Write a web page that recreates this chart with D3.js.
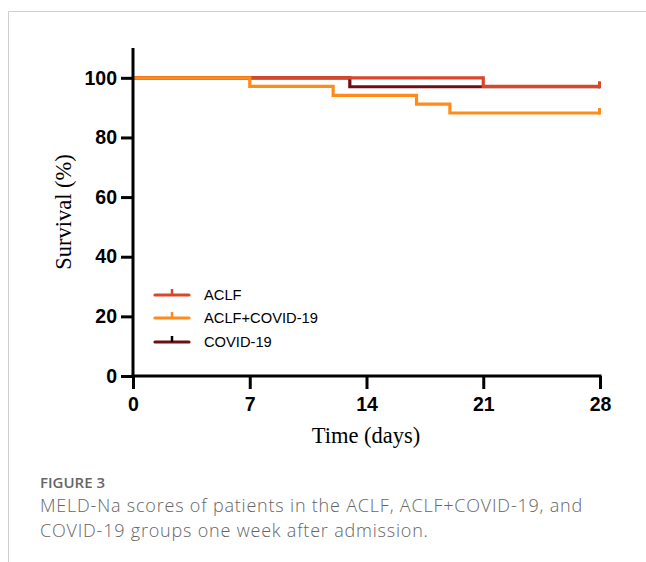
<!DOCTYPE html>
<html>
<head>
<meta charset="utf-8">
<script src="https://cdn.jsdelivr.net/npm/d3@7"></script>
<style>
  body { margin: 0; background: #fff; }
  svg { display: block; }
</style>
</head>
<body>
<div id="chart"></div>
<script>
// survival data (time in days, survival in %)
var groups = ["ACLF", "ACLF+COVID-19", "COVID-19"];
var colors = ["#d9472b", "#ff8c1a", "#6e1010"];

var aclfTimes = [0, 21, 28];
var aclfSurv = [100, 97.1, 97.1];

var aclfCovidTimes = [0, 7, 12, 17, 19, 28];
var aclfCovidSurv = [100, 97.1, 94.1, 91.2, 88.2, 88.2];

var covidTimes = [0, 13, 28];
var covidSurv = [100, 97.0, 97.0];

var xTicks = [0, 7, 14, 21, 28];
var yTicks = [0, 20, 40, 60, 80, 100];

var W = 646, H = 562;

var svg = d3.select("#chart")
  .append("svg")
  .attr("width", W)
  .attr("height", H);

// page frame
svg.append("line")
  .attr("x1", 8.5).attr("x2", W).attr("y1", 11.5).attr("y2", 11.5)
  .style("stroke", "#cfcfcf").style("stroke-width", 1);
svg.append("line")
  .attr("x1", 8.5).attr("x2", 8.5).attr("y1", 11.5).attr("y2", H)
  .style("stroke", "#cfcfcf").style("stroke-width", 1);

var x = d3.scaleLinear().domain([0, 28]).range([133, 600]);
var y = d3.scaleLinear().domain([0, 110]).range([376, 48]);

// curves, darkest first so the others sit on top
var series = [
  {name: "COVID-19", t: covidTimes, s: covidSurv, color: colors[2]},
  {name: "ACLF", t: aclfTimes, s: aclfSurv, color: colors[0]},
  {name: "ACLF+COVID-19", t: aclfCovidTimes, s: aclfCovidSurv, color: colors[1]}
];

var line = d3.line()
  .x(function(d) { return x(d[0]); })
  .y(function(d) { return y(d[1]); })
  .curve(d3.curveStepAfter);

series.forEach(function(g) {
  var pts = g.t.map(function(t, i) { return [t, g.s[i]]; });
  svg.append("path")
    .datum(pts)
    .attr("d", line)
    .style("fill", "none")
    .style("stroke", g.color)
    .style("stroke-width", 3.2);
  // censor tick at the end
  var last = pts[pts.length - 1];
  svg.append("line")
    .attr("x1", x(last[0]) - 0.5).attr("x2", x(last[0]) - 0.5)
    .attr("y1", y(last[1]) + 1.5).attr("y2", y(last[1]) - 5)
    .style("stroke", g.color)
    .style("stroke-width", 3);
});

// y axis
var yAxis = svg.append("g")
  .attr("transform", "translate(" + x(0) + ",0)")
  .call(d3.axisLeft(y).tickValues(yTicks).tickSize(12).tickSizeOuter(0).tickPadding(4));
yAxis.select(".domain").attr("d", "M0," + y(110) + "V" + (y(0) + 1.5))
  .style("stroke-width", 3);
yAxis.selectAll(".tick line").style("stroke-width", 3);
yAxis.selectAll("text")
  .style("font-family", "Liberation Sans, Arial, sans-serif")
  .style("font-weight", "bold")
  .style("font-size", "19.5px")
  .style("fill", "#000");

// x axis
var xAxis = svg.append("g")
  .attr("transform", "translate(0," + y(0) + ")")
  .call(d3.axisBottom(x).tickValues(xTicks).tickSize(13).tickSizeOuter(0).tickPadding(8));
xAxis.select(".domain").attr("d", "M" + (x(0) - 1.5) + ",0H" + (x(28) + 1.5))
  .style("stroke-width", 3);
xAxis.selectAll(".tick line").style("stroke-width", 3);
xAxis.selectAll("text")
  .style("font-family", "Liberation Sans, Arial, sans-serif")
  .style("font-weight", "bold")
  .style("font-size", "19.5px")
  .style("fill", "#000");

// axis titles
svg.append("text")
  .attr("x", 366)
  .attr("y", 443)
  .attr("text-anchor", "middle")
  .style("font-family", "Liberation Serif, Times New Roman, serif")
  .style("font-size", "22.5px")
  .text("Time (days)");

svg.append("text")
  .attr("transform", "translate(71,212) rotate(-90)")
  .attr("text-anchor", "middle")
  .style("font-family", "Liberation Serif, Times New Roman, serif")
  .style("font-size", "22.5px")
  .text("Survival (%)");

// legend
var legendY = [295, 318, 342];
groups.forEach(function(name, i) {
  var ly = legendY[i];
  svg.append("line")
    .attr("x1", 155).attr("x2", 189).attr("y1", ly).attr("y2", ly)
    .style("stroke", colors[i]).style("stroke-width", 3.2)
    .style("stroke-linecap", "round");
  svg.append("line")
    .attr("x1", 172).attr("x2", 172).attr("y1", ly).attr("y2", ly - 6)
    .style("stroke", i == 2 ? "#000" : colors[i]).style("stroke-width", 2.5);
  svg.append("text")
    .attr("x", 204)
    .attr("y", ly + 5)
    .style("font-family", "Liberation Sans, Arial, sans-serif")
    .style("font-size", "14.7px")
    .text(name);
});

// caption
svg.append("text")
  .attr("x", 40).attr("y", 488)
  .style("font-family", "Open Sans, sans-serif")
  .style("font-weight", "600")
  .style("font-size", "15px")
  .style("fill", "#666")
  .text("FIGURE 3");

var caption = ["MELD-Na scores of patients in the ACLF, ACLF+COVID-19, and",
               "COVID-19 groups one week after admission."];
caption.forEach(function(t, i) {
  svg.append("text")
    .attr("x", 40).attr("y", 512 + i * 24.8)
    .style("font-family", "Open Sans, sans-serif")
    .style("font-weight", "300")
    .style("font-size", "18px")
    .style("letter-spacing", "0.8px")
    .style("fill", "#666")
    .text(t);
});
</script>
</body>
</html>
